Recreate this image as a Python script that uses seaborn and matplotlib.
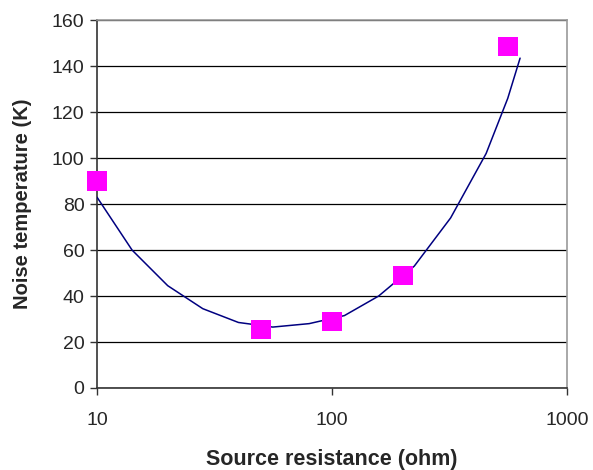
import numpy as np
import pandas as pd
import seaborn as sns
import matplotlib.pyplot as plt
from matplotlib.ticker import FixedLocator, NullLocator

# Measured points (squares)
meas_r = [10, 50, 100, 200, 560]
meas_t = [90, 25.5, 29, 49, 148.5]

# Model curve (line)
model_r = [10, 14.1, 20, 28.2, 40, 56, 80, 113, 158, 224, 320, 453, 560, 632]
model_t = [83, 60, 44.5, 34.5, 28.5, 26.5, 28, 31.5, 40, 53, 74, 102, 126, 143.5]

meas_df = pd.DataFrame({'r': meas_r, 't': meas_t})
model_df = pd.DataFrame({'r': model_r, 't': model_t})

sns.set_style("white")
plt.rcParams['font.family'] = ['Liberation Sans', 'DejaVu Sans']

fig = plt.figure(figsize=(5.93, 4.70), dpi=100)
ax = fig.add_axes([0.1636, 0.1745, 0.956 - 0.1636, 0.957 - 0.1745])

sns.lineplot(data=model_df, x='r', y='t', color='#000080', linewidth=1.1, ax=ax, zorder=3)
sns.scatterplot(data=meas_df, x='r', y='t', marker='s', s=200, color='#FF00FF',
                edgecolor='none', ax=ax, zorder=4, clip_on=False)

ax.set_xscale('log')
ax.set_xlim(10, 1000)
ax.set_ylim(0, 160)
ax.xaxis.set_major_locator(FixedLocator([10, 100, 1000]))
ax.xaxis.set_minor_locator(NullLocator())
ax.set_xticklabels(['10', '100', '1000'])
ax.set_yticks(range(0, 161, 20))

ax.yaxis.grid(True, color='black', linewidth=0.9)
ax.set_axisbelow(True)

for side in ['top', 'right']:
    ax.spines[side].set_color('#999999')
    ax.spines[side].set_linewidth(1.2)
for side in ['left', 'bottom']:
    ax.spines[side].set_color('#333333')
    ax.spines[side].set_linewidth(1.2)

ax.tick_params(axis='both', direction='out', length=5, width=1, color='#333333',
               labelsize=14, bottom=True, left=True)
ax.tick_params(axis='x', pad=12)
ax.tick_params(axis='y', pad=4)

ax.set_xlabel('Source resistance (ohm)', fontsize=15.5, fontweight='bold', labelpad=15)
ax.set_ylabel('Noise temperature (K)', fontsize=14.5, fontweight='bold', labelpad=14)

fig.savefig('out.png', dpi=100)
